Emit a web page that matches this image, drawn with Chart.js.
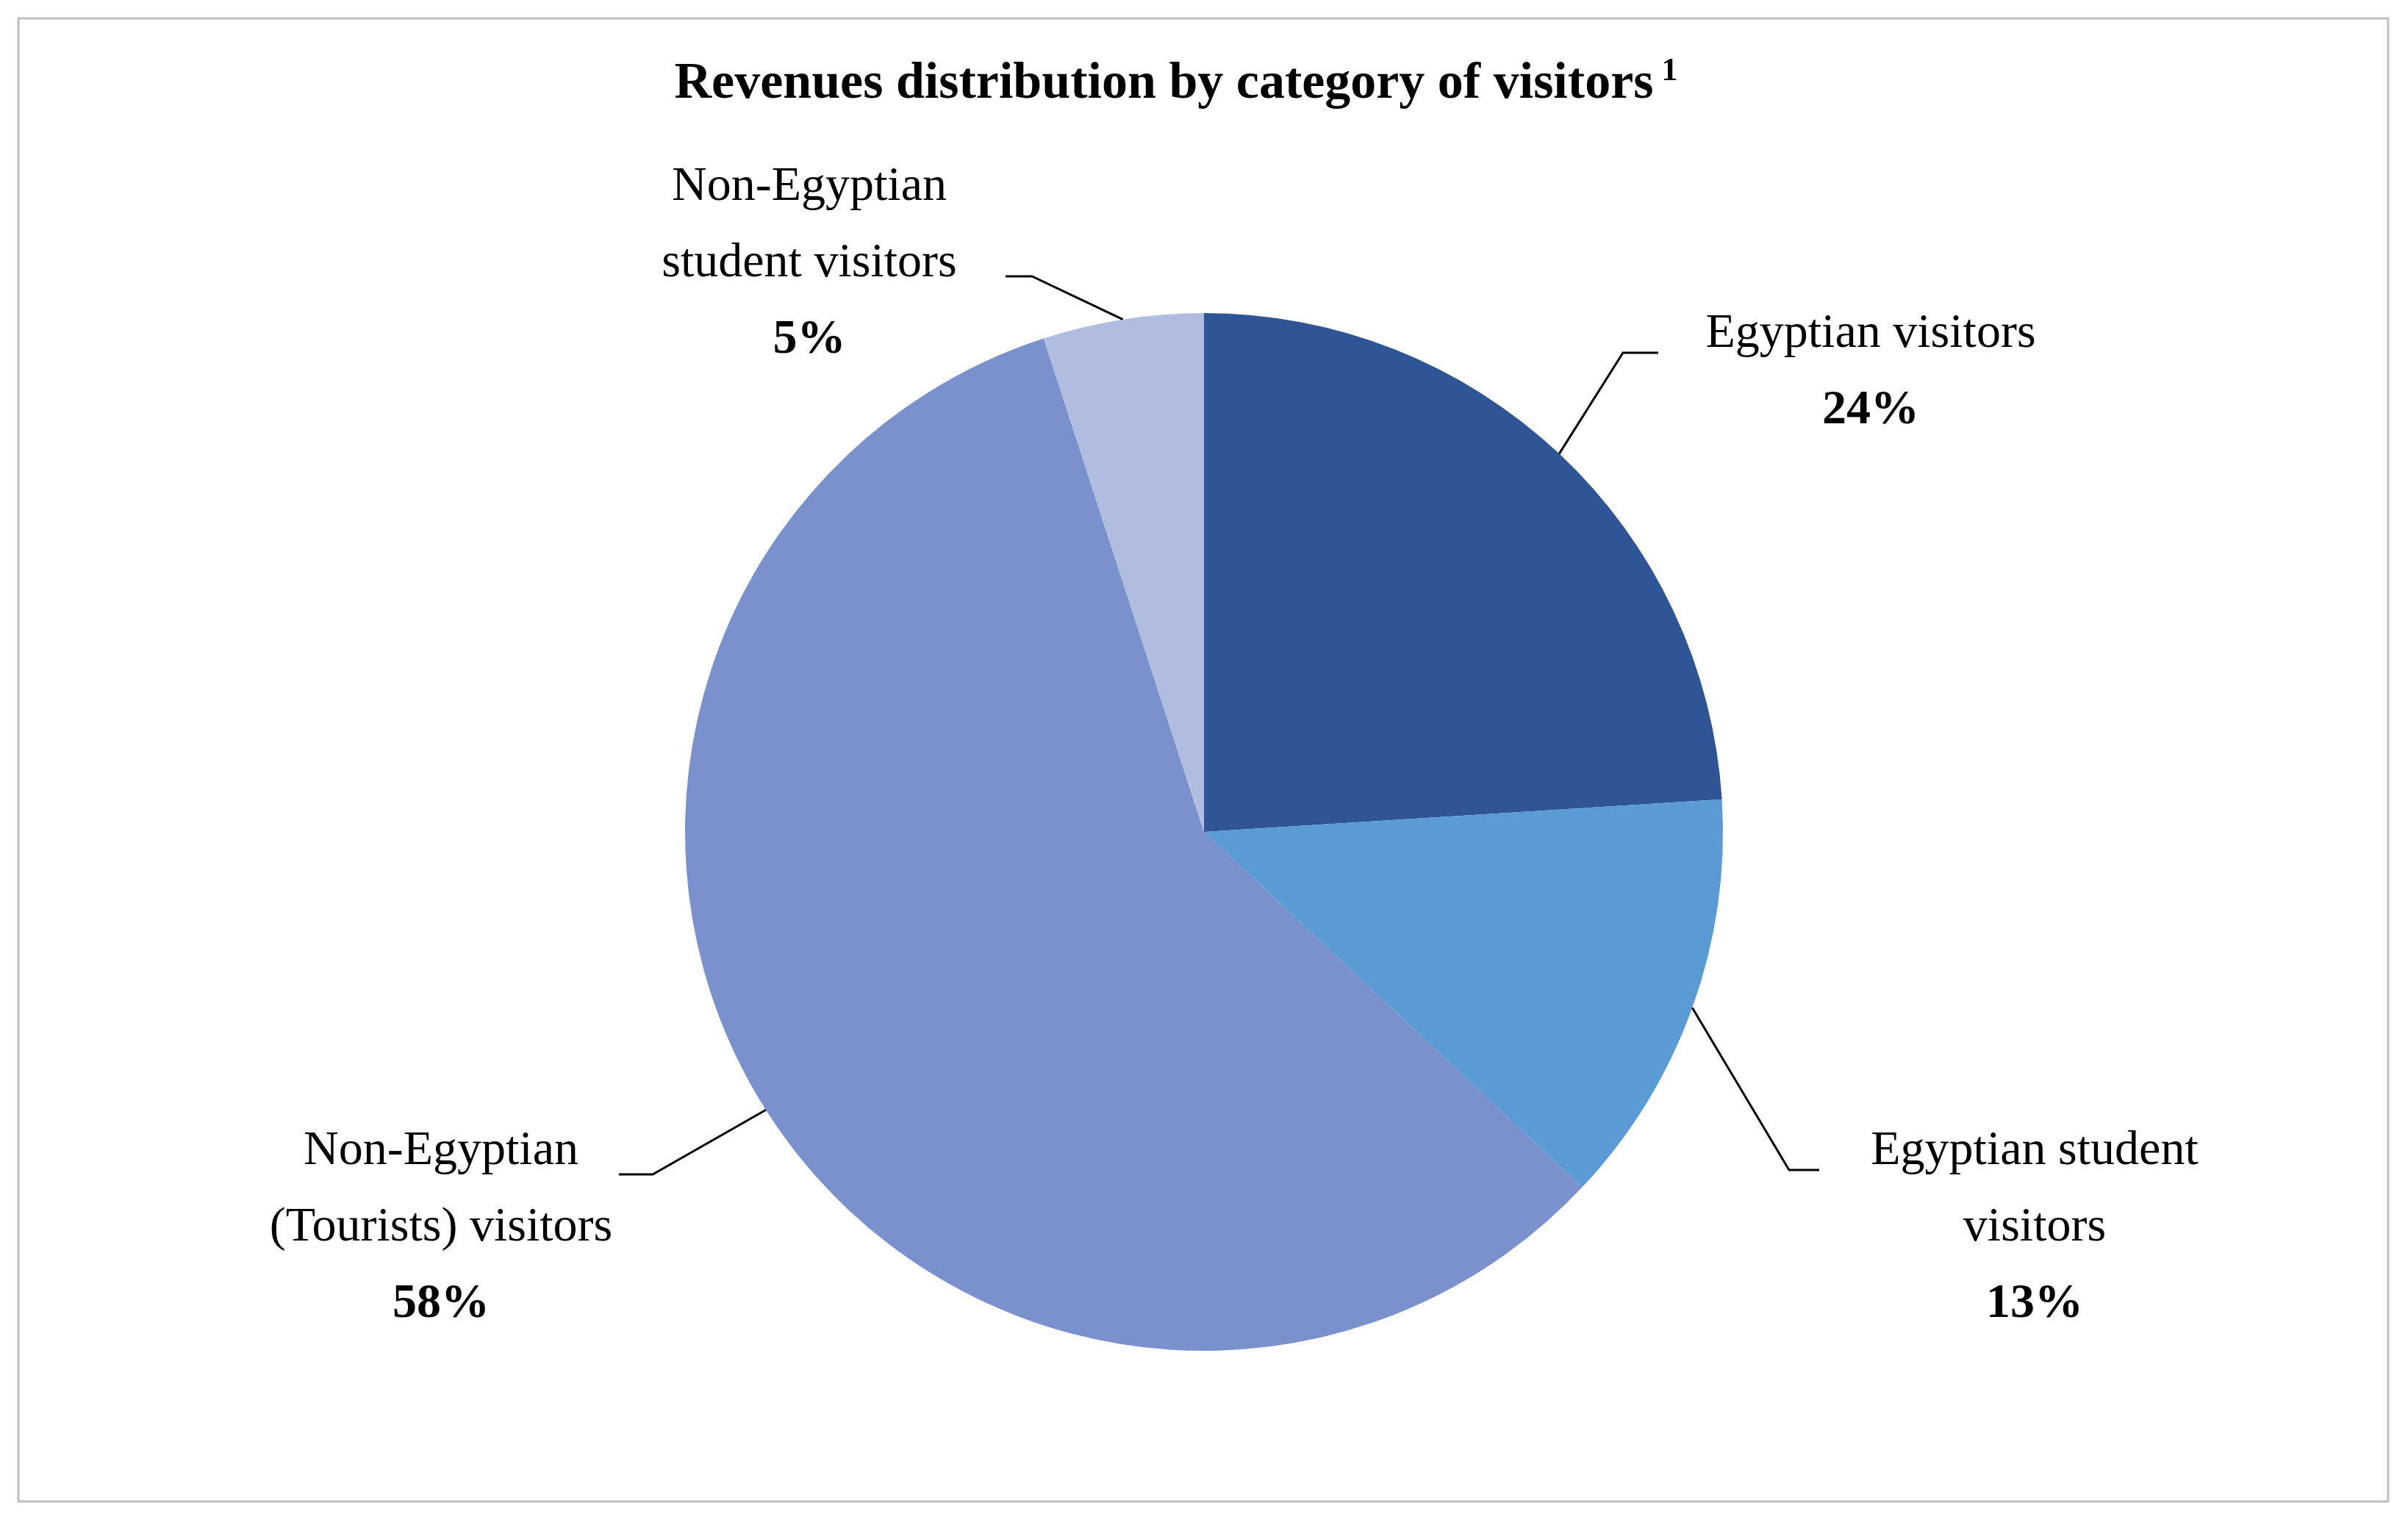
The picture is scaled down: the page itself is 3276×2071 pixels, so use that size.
<!DOCTYPE html>
<html><head><meta charset="utf-8">
<script src="https://cdn.jsdelivr.net/npm/chart.js@4"></script>
<style>html,body{margin:0;padding:0;background:#fff}canvas{display:block}</style>
</head><body>
<div style="width:3276px;height:2071px"><canvas id="c"></canvas></div>
<script>
const categories = ["Egyptian visitors","Egyptian student visitors","Non-Egyptian (Tourists) visitors","Non-Egyptian student visitors"];
const values = [24, 13, 58, 5];
const labelLines = [["Egyptian visitors"],["Egyptian student","visitors"],["Non-Egyptian","(Tourists) visitors"],["Non-Egyptian","student visitors"]];
const colors = ["#2F5597","#5B9BD5","#7A91CE","#B0BCE0"];
const FONT = '"Liberation Serif","DejaVu Serif",serif';
// layout of labels: elbow, end of leader, text center x, first line y
const layout = [
  {ex:2208,ey:480,tx:2256,cx:2545,y0:455},
  {ex:2434,ey:1592,tx:2475,cx:2768,y0:1567},
  {ex:888,ey:1598,tx:842,cx:600,y0:1567},
  {ex:1404,ey:376,tx:1368,cx:1101,y0:255}
];
const deco = {
  id:'deco',
  beforeDraw(chart){
    const c=chart.ctx;c.save();
    c.fillStyle='#fff';c.fillRect(0,0,chart.width,chart.height);
    c.strokeStyle='#bfbfbf';c.lineWidth=3;c.strokeRect(25,25,3224,2018);
    c.fillStyle='#000';c.textBaseline='middle';
    c.font='bold 70px '+FONT;
    const t='Revenues distribution by category of visitors';
    const w=c.measureText(t).width;
    c.font='bold 44px '+FONT;const w2=c.measureText(' 1').width;
    const x0=1600-(w+w2)/2;
    c.font='bold 70px '+FONT;c.textAlign='left';c.fillText(t,x0,115);
    c.font='bold 44px '+FONT;c.fillText(' 1',x0+w,98);
    c.restore();
  },
  afterDraw(chart){
    const c=chart.ctx;c.save();
    const meta=chart.getDatasetMeta(0);
    meta.data.forEach((arc,i)=>{
      const L=layout[i];
      const a=(arc.startAngle+arc.endAngle)/2, r=arc.outerRadius;
      const sx=arc.x+Math.cos(a)*r, sy=arc.y+Math.sin(a)*r;
      c.strokeStyle='#000';c.lineWidth=3;c.beginPath();
      c.moveTo(sx,sy);c.lineTo(L.ex,L.ey);c.lineTo(L.tx,L.ey);c.stroke();
      c.fillStyle='#000';c.textAlign='center';c.textBaseline='middle';
      c.font='66px '+FONT;
      labelLines[i].forEach((s,k)=>c.fillText(s,L.cx,L.y0+k*104));
      c.font='bold 66px '+FONT;
      c.fillText(values[i]+'%',L.cx,L.y0+labelLines[i].length*104);
    });
    c.restore();
  }
};
new Chart(document.getElementById('c'),{
  type:'pie',
  data:{labels:categories,datasets:[{data:values,backgroundColor:colors,borderWidth:0}]},
  options:{responsive:true,maintainAspectRatio:false,devicePixelRatio:1,animation:false,
    layout:{padding:{top:426,bottom:233,left:0,right:0}},
    plugins:{legend:{display:false},tooltip:{enabled:false}}},
  plugins:[deco]
});
</script>
</body></html>
